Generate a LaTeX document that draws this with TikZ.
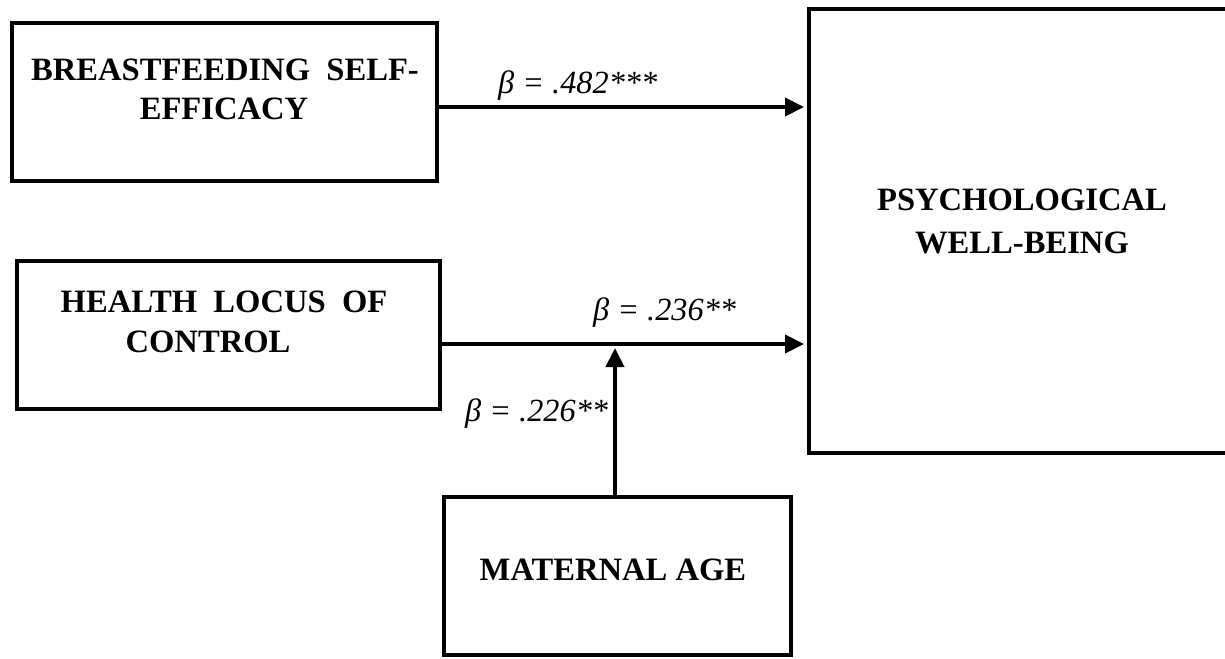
\documentclass[tikz,border=0pt]{standalone}
\usepackage{fontspec}
\setmainfont{Liberation Serif}
\usetikzlibrary{arrows.meta,calc}
\begin{document}
\begin{tikzpicture}[x=1pt,y=-1pt,
  box/.style={draw,line width=4pt,rectangle,inner sep=0pt},
  title/.style={font=\fontsize{32.6}{38}\selectfont\bfseries,anchor=base,inner sep=0pt},
  coef/.style={font=\fontsize{32.3}{38}\selectfont\itshape,anchor=base west,inner sep=0pt},
  arr/.style={line width=4pt,-{Triangle[length=19pt,width=18pt]}}]
\useasboundingbox (0,0) rectangle (1225,658);
\clip (0,0) rectangle (1225,658);
% boxes
\node[box,minimum width=425pt,minimum height=158pt] (b1) at (224.5,102) {};
\node[box,minimum width=423pt,minimum height=148pt] (b2) at (228.5,335) {};
\node[box,minimum width=431pt,minimum height=444pt] (b3) at (1024.5,231) {};
\node[box,minimum width=347pt,minimum height=158pt] (b4) at (617.5,576) {};
% box texts
\node[title] (t1a) at (225,81) {BREASTFEEDING\ \ SELF-};
\node[title] (t1b) at (224,120) {EFFICACY};
\node[title] (t2a) at (224,312) {HEALTH\ \ LOCUS\ \ OF};
\node[title] (t2b) at (208,352) {CONTROL};
\node[title] (t3a) at (1022,210) {PSYCHOLOGICAL};
\node[title] (t3b) at (1022,253) {WELL-BEING};
\node[title] (t4) at (613,580) {MATERNAL AGE};
% connectors
\draw[arr] ([yshift=-5pt]b1.east) -- ([yshift=-5pt,xshift=-3pt]b1.east -| b3.west);
\draw[arr] ([yshift=-9pt]b2.east) -- ([yshift=-9pt,xshift=-3pt]b2.east -| b3.west);
\coordinate (m) at (615,348);
\draw[arr] (b4.north -| m) -- (m);
% coefficients
\node[coef] (c1) at (498,94) {β = .482***};
\node[coef] (c2) at (593,320) {β = .236**};
\node[coef] (c3) at (465,421) {β = .226**};
\end{tikzpicture}
\end{document}
